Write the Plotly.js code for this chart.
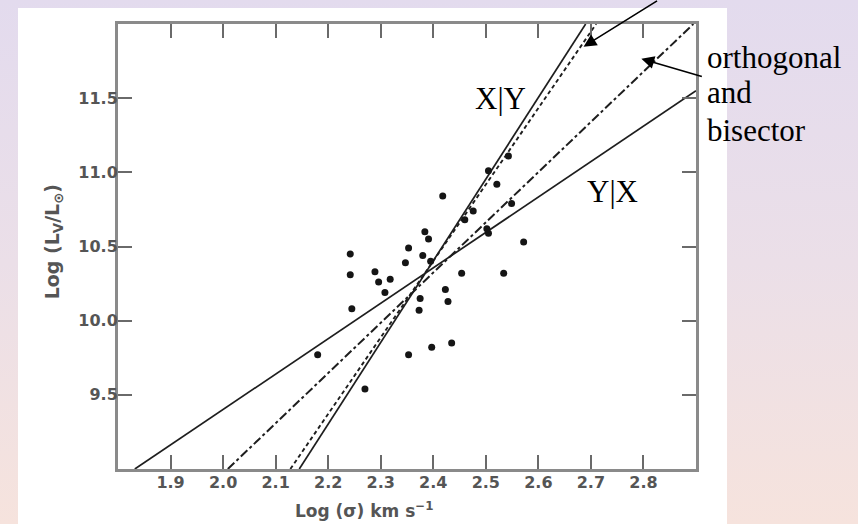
<!DOCTYPE html>
<html>
<head>
<meta charset="utf-8">
<script src="https://cdn.plot.ly/plotly-3.0.1.min.js"></script>
<style>
  html, body { margin:0; padding:0; width:858px; height:524px; overflow:hidden;
    background: linear-gradient(to bottom, #e3dbee 0%, #ebdfe8 50%, #f6e3dd 100%); }
  #paper { position:absolute; left:18px; top:8px; width:709px; height:516px; background:#ffffff; }
  #chart { position:absolute; left:0; top:0; width:858px; height:524px; }
</style>
</head>
<body>
<div id="paper"></div>
<div id="chart"></div>
<script>
// Data points: log(sigma) vs log(L_V/L_sun)
const ptsX = [2.418, 2.384, 2.391, 2.353, 2.242, 2.347, 2.242, 2.289, 2.296, 2.318, 2.308, 2.245,
              2.375, 2.373, 2.423, 2.428, 2.397, 2.353, 2.435, 2.180, 2.270, 2.454, 2.534, 2.572,
              2.505, 2.502, 2.521, 2.505, 2.543, 2.476, 2.460, 2.549, 2.380, 2.395];
const ptsY = [10.84, 10.60, 10.55, 10.49, 10.45, 10.39, 10.31, 10.33, 10.26, 10.28, 10.19, 10.08,
              10.15, 10.07, 10.21, 10.13, 9.82, 9.77, 9.85, 9.77, 9.54, 10.32, 10.32, 10.53,
              10.59, 10.62, 10.92, 11.01, 11.11, 10.74, 10.68, 10.79, 10.44, 10.40];

// Fitted lines (end points)
const yxLineX = [1.832, 2.9];    const yxLineY = [9.0, 11.55];   // Y|X
const orthLineX = [2.009, 2.895]; const orthLineY = [9.0, 12.0];  // orthogonal and bisector
const xyLineX = [2.145, 2.69];   const xyLineY = [9.0, 12.0];    // X|Y
const xy2LineX = [2.128, 2.71];  const xy2LineY = [9.0, 12.0];   // companion steep line

const xTickVals = [1.9, 2.0, 2.1, 2.2, 2.3, 2.4, 2.5, 2.6, 2.7, 2.8];
const xTickText = ["1.9", "2.0", "2.1", "2.2", "2.3", "2.4", "2.5", "2.6", "2.7", "2.8"];
const yTickVals = [9.5, 10.0, 10.5, 11.0, 11.5];
const yTickText = ["9.5", "10.0", "10.5", "11.0", "11.5"];

const lineCol = '#1e1e1e';
const traces = [
  {x: yxLineX, y: yxLineY, mode:'lines', line:{color:lineCol, width:1.7}, hoverinfo:'skip'},
  {x: orthLineX, y: orthLineY, mode:'lines', line:{color:lineCol, width:2, dash:'dashdot'}, hoverinfo:'skip'},
  {x: xyLineX, y: xyLineY, mode:'lines', line:{color:lineCol, width:1.7}, hoverinfo:'skip'},
  {x: xy2LineX, y: xy2LineY, mode:'lines', line:{color:lineCol, width:1.9, dash:'4px,3px'}, hoverinfo:'skip'},
  {x: ptsX, y: ptsY, mode:'markers', marker:{color:'#151515', size:7}, hoverinfo:'skip'}
];

const tickFont = {family:'DejaVu Sans', size:16, color:'#555555', weight:'bold'};
const serif = {family:'Liberation Serif', size:31, color:'#000'};
const axisCommon = {
  showgrid:false, zeroline:false, showline:true, mirror:'allticks',
  linecolor:'#8a8a8a', linewidth:3, ticks:'inside', ticklen:14, tickwidth:2,
  tickcolor:'#6a6a6a', tickfont: tickFont, fixedrange:true
};

const layout = {
  width:858, height:524,
  margin:{l:118, r:162, t:24, b:55, pad:0},
  paper_bgcolor:'rgba(0,0,0,0)', plot_bgcolor:'rgba(0,0,0,0)',
  showlegend:false,
  xaxis: Object.assign({}, axisCommon, {range:[1.8, 2.9], tickmode:'array', tickvals:xTickVals, ticktext:xTickText, ticklabelstandoff:-3}),
  yaxis: Object.assign({}, axisCommon, {range:[9.0, 12.0], tickmode:'array', tickvals:yTickVals, ticktext:yTickText, ticklabelstandoff:-6}),
  annotations: [
    {xref:'paper', yref:'paper', x:-0.112, y:0.51, xanchor:'center', yanchor:'middle', textangle:-90,
     text:'Log (L<sub>V</sub>/L<sub>⊙</sub>)', showarrow:false, font:{family:'DejaVu Sans', size:19, color:'#555555', weight:'bold'}},
    {xref:'paper', yref:'paper', x:0.427, y:-0.092, xanchor:'center', yanchor:'middle',
     text:'Log (σ) km s<sup>−1</sup>', showarrow:false, font:{family:'DejaVu Sans', size:17, color:'#555555', weight:'bold'}},
    {xref:'x', yref:'y', x:2.527, y:11.5, xanchor:'center', yanchor:'middle', text:'X|Y', showarrow:false, font:serif},
    {xref:'x', yref:'y', x:2.741, y:10.87, xanchor:'center', yanchor:'middle', text:'Y|X', showarrow:false, font:serif},
    {xref:'paper', yref:'paper', x:(705-118)/578, y:(469-57)/445, xanchor:'left', yanchor:'middle', text:'orthogonal', showarrow:false, font:serif},
    {xref:'paper', yref:'paper', x:(705-118)/578, y:(469-93)/445, xanchor:'left', yanchor:'middle', text:'and', showarrow:false, font:serif},
    {xref:'paper', yref:'paper', x:(705-118)/578, y:(469-130)/445, xanchor:'left', yanchor:'middle', text:'bisector', showarrow:false, font:serif},
    {xref:'x', yref:'y', x:2.686, y:11.847, ax:75, ay:-52, text:'', showarrow:true, arrowhead:2, arrowsize:1.6, arrowwidth:1.6, arrowcolor:'#000'},
    {xref:'x', yref:'y', x:2.796, y:11.765, ax:62, ay:18, text:'', showarrow:true, arrowhead:2, arrowsize:1.6, arrowwidth:1.6, arrowcolor:'#000'}
  ]
};

Plotly.newPlot('chart', traces, layout, {staticPlot:true, displayModeBar:false});
</script>
</body>
</html>
